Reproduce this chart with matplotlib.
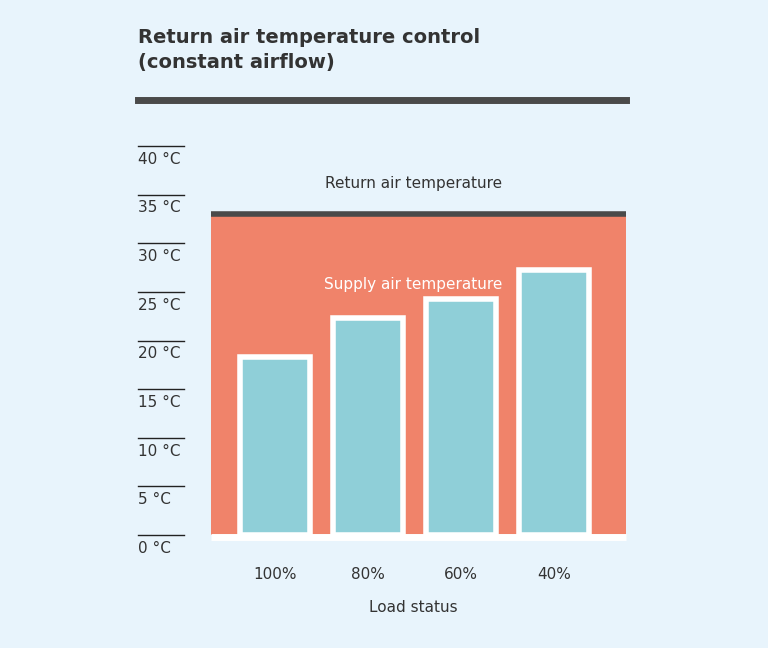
import matplotlib
matplotlib.use("Agg")
import matplotlib.pyplot as plt
from matplotlib.patches import Rectangle

categories = ["100%", "80%", "60%", "40%"]
supply_temp = [18.3, 22.3, 24.3, 27.3]
return_temp = 33.0
yticks = [0, 5, 10, 15, 20, 25, 30, 35, 40]
ytick_labels = ["0 °C", "5 °C", "10 °C", "15 °C", "20 °C", "25 °C", "30 °C", "35 °C", "40 °C"]

BG = "#E8F4FC"
ORANGE = "#F0836A"
TEAL = "#8FCFD8"
DARK = "#4a4a4a"
W, H = 768, 648

fig = plt.figure(figsize=(W / 100, H / 100), dpi=100, facecolor=BG)
# axes placed in pixel coordinates: x 138..626, y 146..535
ax = fig.add_axes([138 / W, 1 - 535 / H, (626 - 138) / W, (535 - 146) / H])
ax.set_facecolor("none")
x0, x1 = -1.473, 3.774
ax.set_xlim(x0, x1)
ax.set_ylim(0, 40)
ax.axis("off")

# orange region = return air temperature
ax.add_patch(Rectangle((-0.688, 0), x1 + 0.688, return_temp, color=ORANGE, lw=0, clip_on=False))
ax.plot([-0.688, x1], [return_temp, return_temp], color=DARK, lw=4, solid_capstyle="butt", clip_on=False)
ax.plot([-0.688, x1], [-0.25, -0.25], color="white", lw=5, solid_capstyle="butt", clip_on=False)

ax.bar(range(len(categories)), supply_temp, width=0.76, color=TEAL,
       edgecolor="white", linewidth=4, zorder=3)

for v, lab in zip(yticks, ytick_labels):
    ax.plot([x0, -0.98], [v, v], color="#222222", lw=1, clip_on=False)
    ax.text(x0, v - 0.6, lab, ha="left", va="top", fontsize=11, color="#333333")

ax.text(1.49, 35.4, "Return air temperature", ha="center", va="bottom", fontsize=11, color="#333333")
ax.text(1.49, 25.8, "Supply air temperature", ha="center", va="center", fontsize=11, color="white")

for i, c in enumerate(categories):
    ax.text(i, -4.1, c, ha="center", va="center", fontsize=11, color="#333333")
ax.text(1.49, -7.5, "Load status", ha="center", va="center", fontsize=11, color="#333333")

fig.text(138 / W, 1 - 50 / H, "Return air temperature control\n(constant airflow)",
         ha="left", va="center", fontsize=14, fontweight="bold", color="#333333", linespacing=1.4)
fig.add_artist(plt.Line2D([138 / W, 626 / W], [1 - 100 / H, 1 - 100 / H], color=DARK, lw=5))

fig.savefig("out.png", dpi=100, facecolor=BG)
